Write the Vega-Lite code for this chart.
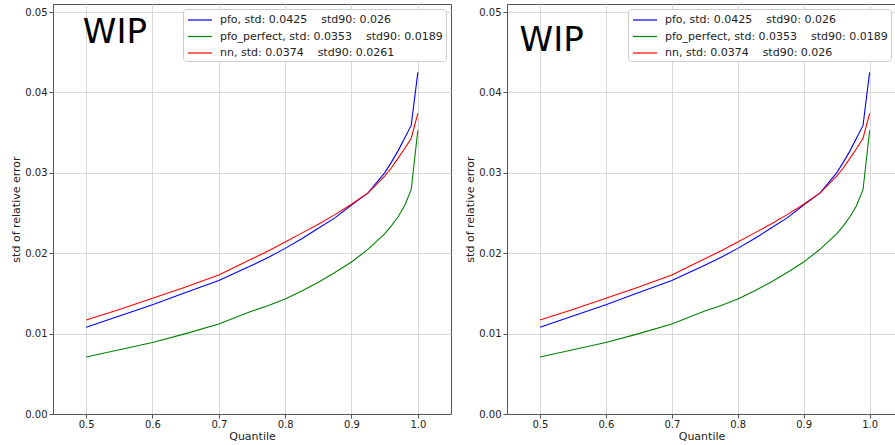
{
  "$schema": "https://vega.github.io/schema/vega-lite/v6.json",
  "background": "white",
  "padding": {"left": 10, "top": 3, "right": 0, "bottom": 0},
  "spacing": 12,
  "config": {
    "view": {"stroke": "#555", "strokeWidth": 1},
    "axis": {
      "grid": true, "gridColor": "#d9d9d9", "gridWidth": 1,
      "domainColor": "#555", "tickColor": "#555", "tickSize": 4,
      "labelFont": "DejaVu Sans", "labelFontSize": 10, "labelColor": "#222", "labelPadding": 1,
      "titleFont": "DejaVu Sans", "titleFontSize": 11, "titleFontWeight": "normal", "titleColor": "#222", "titlePadding": 1
    },
    "axisY": {"labelPadding": 2, "titlePadding": 3},
    "legend": {
      "orient": "top-right", "offset": 5, "padding": 3,
      "strokeColor": "#cccccc", "fillColor": "white", "cornerRadius": 3,
      "symbolType": "M-0.857,0H2.571", "symbolSize": 196, "symbolStrokeWidth": 1.2,
      "labelFont": "DejaVu Sans", "labelFontSize": 11, "labelColor": "#222", "labelLimit": 400,
      "labelOffset": 18, "rowPadding": 3.5
    }
  },
  "datasets": {
    "curves": [
      {"q": 0.5, "series": "pfo", "v": 0.0108}, {"q": 0.55, "series": "pfo", "v": 0.0122}, {"q": 0.6, "series": "pfo", "v": 0.0136}, {"q": 0.65, "series": "pfo", "v": 0.0151}, {"q": 0.7, "series": "pfo", "v": 0.0166}, {"q": 0.75, "series": "pfo", "v": 0.0185}, {"q": 0.775, "series": "pfo", "v": 0.0195}, {"q": 0.8, "series": "pfo", "v": 0.0206}, {"q": 0.825, "series": "pfo", "v": 0.0218}, {"q": 0.85, "series": "pfo", "v": 0.0231}, {"q": 0.875, "series": "pfo", "v": 0.0244}, {"q": 0.9, "series": "pfo", "v": 0.026}, {"q": 0.925, "series": "pfo", "v": 0.0275}, {"q": 0.95, "series": "pfo", "v": 0.03}, {"q": 0.96, "series": "pfo", "v": 0.0313}, {"q": 0.97, "series": "pfo", "v": 0.0327}, {"q": 0.98, "series": "pfo", "v": 0.0343}, {"q": 0.99, "series": "pfo", "v": 0.0359}, {"q": 1.0, "series": "pfo", "v": 0.0425},
      {"q": 0.5, "series": "pfo_perfect", "v": 0.0071}, {"q": 0.55, "series": "pfo_perfect", "v": 0.008}, {"q": 0.6, "series": "pfo_perfect", "v": 0.0089}, {"q": 0.65, "series": "pfo_perfect", "v": 0.01}, {"q": 0.7, "series": "pfo_perfect", "v": 0.0112}, {"q": 0.75, "series": "pfo_perfect", "v": 0.0128}, {"q": 0.775, "series": "pfo_perfect", "v": 0.0135}, {"q": 0.8, "series": "pfo_perfect", "v": 0.0143}, {"q": 0.825, "series": "pfo_perfect", "v": 0.0153}, {"q": 0.85, "series": "pfo_perfect", "v": 0.0164}, {"q": 0.875, "series": "pfo_perfect", "v": 0.0176}, {"q": 0.9, "series": "pfo_perfect", "v": 0.0189}, {"q": 0.925, "series": "pfo_perfect", "v": 0.0205}, {"q": 0.95, "series": "pfo_perfect", "v": 0.0224}, {"q": 0.96, "series": "pfo_perfect", "v": 0.0234}, {"q": 0.97, "series": "pfo_perfect", "v": 0.0245}, {"q": 0.98, "series": "pfo_perfect", "v": 0.0259}, {"q": 0.99, "series": "pfo_perfect", "v": 0.0279}, {"q": 1.0, "series": "pfo_perfect", "v": 0.0353},
      {"q": 0.5, "series": "nn", "v": 0.0117}, {"q": 0.55, "series": "nn", "v": 0.013}, {"q": 0.6, "series": "nn", "v": 0.0144}, {"q": 0.65, "series": "nn", "v": 0.0158}, {"q": 0.7, "series": "nn", "v": 0.0173}, {"q": 0.75, "series": "nn", "v": 0.0193}, {"q": 0.775, "series": "nn", "v": 0.0203}, {"q": 0.8, "series": "nn", "v": 0.0214}, {"q": 0.825, "series": "nn", "v": 0.0225}, {"q": 0.85, "series": "nn", "v": 0.0236}, {"q": 0.875, "series": "nn", "v": 0.0248}, {"q": 0.9, "series": "nn", "v": 0.0261}, {"q": 0.925, "series": "nn", "v": 0.0275}, {"q": 0.95, "series": "nn", "v": 0.0296}, {"q": 0.96, "series": "nn", "v": 0.0306}, {"q": 0.97, "series": "nn", "v": 0.0318}, {"q": 0.98, "series": "nn", "v": 0.033}, {"q": 0.99, "series": "nn", "v": 0.0343}, {"q": 1.0, "series": "nn", "v": 0.0374}
    ]
  },
  "hconcat": [
    {
      "width": 398, "height": 410,
      "layer": [
        {
          "data": {"name": "curves"},
          "mark": {"type": "line", "strokeWidth": 1.1},
          "encoding": {
            "x": {"field": "q", "type": "quantitative", "scale": {"domain": [0.45, 1.05], "nice": false, "zero": false}, "axis": {"values": [0.5, 0.6, 0.7, 0.8, 0.9, 1.0], "format": ".1f", "title": "Quantile"}},
            "y": {"field": "v", "type": "quantitative", "scale": {"domain": [0, 0.051], "nice": false}, "axis": {"values": [0, 0.01, 0.02, 0.03, 0.04, 0.05], "format": ".2f", "title": "std of relative error"}},
            "color": {"field": "series", "type": "nominal", "scale": {"domain": ["pfo", "pfo_perfect", "nn"], "range": ["#0000ff", "#008000", "#ff0000"]},
              "legend": {"title": null, "labelExpr": "datum.value == 'pfo' ? 'pfo, std: 0.0425\u00a0\u00a0\u00a0\u00a0std90: 0.026' : datum.value == 'pfo_perfect' ? 'pfo_perfect, std: 0.0353\u00a0\u00a0\u00a0\u00a0std90: 0.0189' : 'nn, std: 0.0374\u00a0\u00a0\u00a0\u00a0std90: 0.0261'"}}
          }
        },
        {
          "data": {"values": [{"q": 0.495, "v": 0.0462, "t": "WIP"}]},
          "mark": {"type": "text", "align": "left", "baseline": "alphabetic", "font": "DejaVu Sans", "fontSize": 34, "color": "black"},
          "encoding": {"x": {"field": "q", "type": "quantitative"}, "y": {"field": "v", "type": "quantitative"}, "text": {"field": "t"}}
        }
      ]
    },
    {
      "width": 389, "height": 410,
      "layer": [
        {
          "data": {"name": "curves"},
          "mark": {"type": "line", "strokeWidth": 1.1},
          "encoding": {
            "x": {"field": "q", "type": "quantitative", "scale": {"domain": [0.45, 1.04], "nice": false, "zero": false}, "axis": {"values": [0.5, 0.6, 0.7, 0.8, 0.9, 1.0], "format": ".1f", "title": "Quantile"}},
            "y": {"field": "v", "type": "quantitative", "scale": {"domain": [0, 0.051], "nice": false}, "axis": {"values": [0, 0.01, 0.02, 0.03, 0.04, 0.05], "format": ".2f", "title": "std of relative error"}},
            "color": {"field": "series", "type": "nominal", "scale": {"domain": ["pfo", "pfo_perfect", "nn"], "range": ["#0000ff", "#008000", "#ff0000"]},
              "legend": {"title": null, "labelExpr": "datum.value == 'pfo' ? 'pfo, std: 0.0425\u00a0\u00a0\u00a0\u00a0std90: 0.026' : datum.value == 'pfo_perfect' ? 'pfo_perfect, std: 0.0353\u00a0\u00a0\u00a0\u00a0std90: 0.0189' : 'nn, std: 0.0374\u00a0\u00a0\u00a0\u00a0std90: 0.026'"}}
          }
        },
        {
          "data": {"values": [{"q": 0.469, "v": 0.0452, "t": "WIP"}]},
          "mark": {"type": "text", "align": "left", "baseline": "alphabetic", "font": "DejaVu Sans", "fontSize": 34, "color": "black"},
          "encoding": {"x": {"field": "q", "type": "quantitative"}, "y": {"field": "v", "type": "quantitative"}, "text": {"field": "t"}}
        }
      ]
    }
  ],
  "resolve": {"scale": {"color": "independent", "x": "independent", "y": "independent"}, "legend": {"color": "independent"}}
}
